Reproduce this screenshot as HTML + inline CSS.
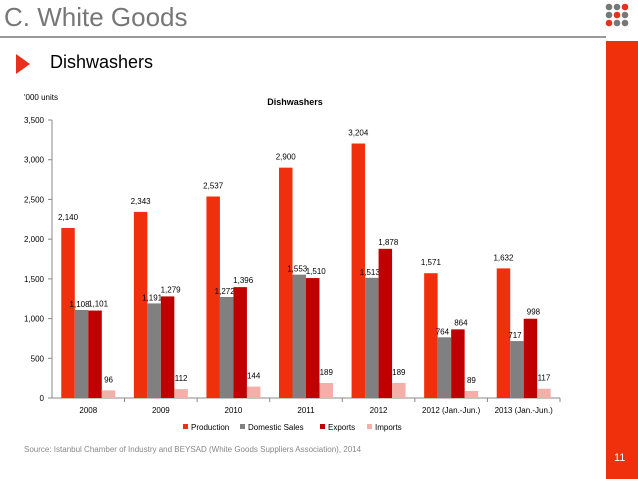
<!DOCTYPE html>
<html><head><meta charset="utf-8"><style>
body{margin:0;width:638px;height:479px;overflow:hidden;background:#fff;font-family:"Liberation Sans",sans-serif;position:relative}
.a{position:absolute}
</style></head><body>
<div class="a" style="left:4px;top:2px;font-size:26px;color:#777">C. White Goods</div>
<div class="a" style="left:0;top:36px;width:606px;height:2px;background:#999"></div>
<svg class="a" style="left:600px;top:0" width="38" height="32">
<g fill="#777"><circle cx="9" cy="7" r="3.3"/><circle cx="17" cy="7" r="3.3"/><circle cx="9" cy="15" r="3.3"/><circle cx="25" cy="15" r="3.3"/><circle cx="17" cy="23" r="3.3"/><circle cx="25" cy="23" r="3.3"/></g>
<g fill="#e8301c"><circle cx="25" cy="7" r="3.3"/><circle cx="17" cy="15" r="3.3"/><circle cx="9" cy="23" r="3.3"/></g></svg>
<div class="a" style="left:606px;top:41px;width:32px;height:438px;background:#f0300c"></div>
<div class="a" style="left:614px;top:452px;font-size:11px;color:#fff">11</div>
<svg class="a" style="left:16px;top:54px" width="16" height="20"><polygon points="0,0 14,10 0,20" fill="#e8301c"/></svg>
<div class="a" style="left:50px;top:52px;font-size:18px;color:#000">Dishwashers</div>
<div class="a" style="left:24px;top:445px;font-size:8px;color:#888">Source: Istanbul Chamber of Industry and BEYSAD (White Goods Suppliers Association), 2014</div>
<svg id="chart" class="a" style="left:0;top:0" width="606" height="440"></svg>
<script>
const categories=["2008","2009","2010","2011","2012","2012 (Jan.-Jun.)","2013 (Jan.-Jun.)"];
const production=[2140,2343,2537,2900,3204,1571,1632];
const domestic=[1108,1191,1272,1553,1513,764,717];
const exportsV=[1101,1279,1396,1510,1878,864,998];
const imports=[96,112,144,189,189,89,117];
const seriesNames=["Production","Domestic Sales","Exports","Imports"];
const colors=["#f0300c","#808080","#c00000","#f4b0a8"];
const yTicks=[0,500,1000,1500,2000,2500,3000,3500];
const NS="http://www.w3.org/2000/svg";
const svg=document.getElementById('chart');
const X0=52,X1=560,Y0=398,Y1=120,YMAX=3500;
const y=v=>Y0-(v/YMAX)*(Y0-Y1);
const gw=(X1-X0)/categories.length;
function mk(t,a,txt){const e=document.createElementNS(NS,t);for(const k in a)e.setAttribute(k,a[k]);if(txt!=null)e.textContent=txt;svg.appendChild(e);return e;}
let e;
e=mk('text',{x:24,y:100,'font-size':8,fill:'#000'},"'000 units");


e=mk('text',{x:295,y:105,'font-size':9,'font-weight':'bold','text-anchor':'middle'},"Dishwashers");


e=mk('line',{x1:X0,y1:Y1,x2:X0,y2:Y0,stroke:'#888'});


e=mk('line',{x1:X0,y1:Y0,x2:X1,y2:Y0,stroke:'#888'});


yTicks.forEach(v=>{
 mk('line',{x1:X0-4,y1:y(v),x2:X0,y2:y(v),stroke:'#888'});
 e=mk('text',{x:X0-8,y:y(v)+3,'font-size':8,'text-anchor':'end'},v.toLocaleString('en-US'));
 
 
});
const series=[production,domestic,exportsV,imports];
const bw=13.5;
categories.forEach((c,i)=>{
 const gx=X0+gw*i;
 mk('line',{x1:gx+gw,y1:Y0,x2:gx+gw,y2:Y0+4,stroke:'#888'});
 e=mk('text',{x:gx+gw/2,y:Y0+15,'font-size':8,'text-anchor':'middle'},c);
 
 
 series.forEach((s,j)=>{
  const bx=gx+gw/2-2*bw+j*bw;
  e=mk('rect',{x:bx,y:y(s[i]),width:bw,height:Y0-y(s[i]),fill:colors[j]});
  
  
  const dy=j==1?-3:(j==2?-4:-8);
  let tx=bx+bw/2; if(j==1)tx-=2; if(j==2)tx+=3;
  e=mk('text',{x:tx,y:y(s[i])+dy,'font-size':8,'text-anchor':'middle'},s[i].toLocaleString('en-US'));
  
  
 });
});
let lx=183;
seriesNames.forEach((n,j)=>{
 e=mk('rect',{x:lx,y:424,width:5,height:5,fill:colors[j]});
 
 
 e=mk('text',{x:lx+8,y:430,'font-size':8},n);
 
 
 lx+=[57,80,47,0][j];
});
</script>
</body></html>
